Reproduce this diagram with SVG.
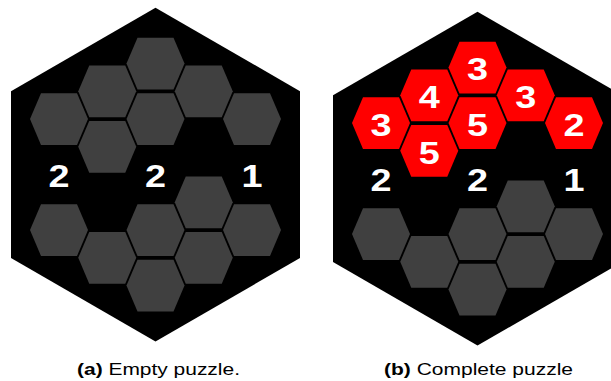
<svg xmlns="http://www.w3.org/2000/svg" xmlns:xlink="http://www.w3.org/1999/xlink" width="611" height="381" viewBox="0 0 611 381">
<style>
.board{fill:#000}
.empty{fill:#404040}
.filled{fill:#ff0000}
.num{font-family:"Liberation Sans",Arial,sans-serif;font-weight:bold;font-size:31px;fill:#fff;text-anchor:middle}
.cap{font-family:"Liberation Sans",Arial,sans-serif;font-size:17px;fill:#000}
.b{font-weight:bold}
</style>
<defs>
<polygon id="hex" points="-18,-25.8 18,-25.8 29,0 18,25.8 -18,25.8 -29,0"/>
</defs>
<rect width="611" height="381" fill="#fff"/>
<g id="puzzle-a">
<polygon id="board-a" class="board" points="155.5,7.7 300,91.15 300,258.05 155.5,341.5 11,258.05 11,91.15"/>
<g id="a-cells">
<g id="a-c1"><use xlink:href="#hex" class="empty" x="155.5" y="63.6"/></g>
<g id="a-c2"><use xlink:href="#hex" class="empty" x="155.5" y="119.1"/></g>
<g id="a-c3"><use xlink:href="#hex" class="empty" x="107.25" y="91.35"/></g>
<g id="a-c4"><use xlink:href="#hex" class="empty" x="107.25" y="146.85"/></g>
<g id="a-c5"><use xlink:href="#hex" class="empty" x="59" y="119.1"/></g>
<g id="a-c6"><use xlink:href="#hex" class="empty" x="203.75" y="91.35"/></g>
<g id="a-c7"><use xlink:href="#hex" class="empty" x="252" y="119.1"/></g>
<g id="a-c8"><use xlink:href="#hex" class="empty" x="59" y="230.1"/></g>
<g id="a-c9"><use xlink:href="#hex" class="empty" x="107.25" y="257.85"/></g>
<g id="a-c10"><use xlink:href="#hex" class="empty" x="155.5" y="230.1"/></g>
<g id="a-c11"><use xlink:href="#hex" class="empty" x="155.5" y="285.6"/></g>
<g id="a-c12"><use xlink:href="#hex" class="empty" x="203.75" y="202.35"/></g>
<g id="a-c13"><use xlink:href="#hex" class="empty" x="203.75" y="257.85"/></g>
<g id="a-c14"><use xlink:href="#hex" class="empty" x="252" y="230.1"/></g>
</g>
<g id="a-clues">
<text class="num" transform="translate(59,187) scale(1.22,1)">2</text>
<text class="num" transform="translate(155.5,187) scale(1.22,1)">2</text>
<text class="num" transform="translate(252,187) scale(1.22,1)">1</text>
</g>
</g>
<g id="puzzle-b" transform="translate(322,4)">
<polygon id="board-b" class="board" points="155.5,7.7 300,91.15 300,258.05 155.5,341.5 11,258.05 11,91.15"/>
<g id="b-cells">
<g id="b-c1"><use xlink:href="#hex" class="filled" x="155.5" y="63.6"/><text class="num" transform="translate(155.5,76.3) scale(1.22,1)">3</text></g>
<g id="b-c2"><use xlink:href="#hex" class="filled" x="155.5" y="119.1"/><text class="num" transform="translate(155.5,131.8) scale(1.22,1)">5</text></g>
<g id="b-c3"><use xlink:href="#hex" class="filled" x="107.25" y="91.35"/><text class="num" transform="translate(107.25,104.05) scale(1.22,1)">4</text></g>
<g id="b-c4"><use xlink:href="#hex" class="filled" x="107.25" y="146.85"/><text class="num" transform="translate(107.25,159.55) scale(1.22,1)">5</text></g>
<g id="b-c5"><use xlink:href="#hex" class="filled" x="59" y="119.1"/><text class="num" transform="translate(59,131.8) scale(1.22,1)">3</text></g>
<g id="b-c6"><use xlink:href="#hex" class="filled" x="203.75" y="91.35"/><text class="num" transform="translate(203.75,104.05) scale(1.22,1)">3</text></g>
<g id="b-c7"><use xlink:href="#hex" class="filled" x="252" y="119.1"/><text class="num" transform="translate(252,131.8) scale(1.22,1)">2</text></g>
<g id="b-c8"><use xlink:href="#hex" class="empty" x="59" y="230.1"/></g>
<g id="b-c9"><use xlink:href="#hex" class="empty" x="107.25" y="257.85"/></g>
<g id="b-c10"><use xlink:href="#hex" class="empty" x="155.5" y="230.1"/></g>
<g id="b-c11"><use xlink:href="#hex" class="empty" x="155.5" y="285.6"/></g>
<g id="b-c12"><use xlink:href="#hex" class="empty" x="203.75" y="202.35"/></g>
<g id="b-c13"><use xlink:href="#hex" class="empty" x="203.75" y="257.85"/></g>
<g id="b-c14"><use xlink:href="#hex" class="empty" x="252" y="230.1"/></g>
</g>
<g id="b-clues">
<text class="num" transform="translate(59,187) scale(1.22,1)">2</text>
<text class="num" transform="translate(155.5,187) scale(1.22,1)">2</text>
<text class="num" transform="translate(252,187) scale(1.22,1)">1</text>
</g>
</g>
<g id="connectors"/>
<g id="captions">
<text class="cap" x="77" y="375" textLength="163" lengthAdjust="spacingAndGlyphs"><tspan class="b">(a)</tspan> Empty puzzle.</text>
<text class="cap" x="384" y="375" textLength="189" lengthAdjust="spacingAndGlyphs"><tspan class="b">(b)</tspan> Complete puzzle</text>
</g>
</svg>
